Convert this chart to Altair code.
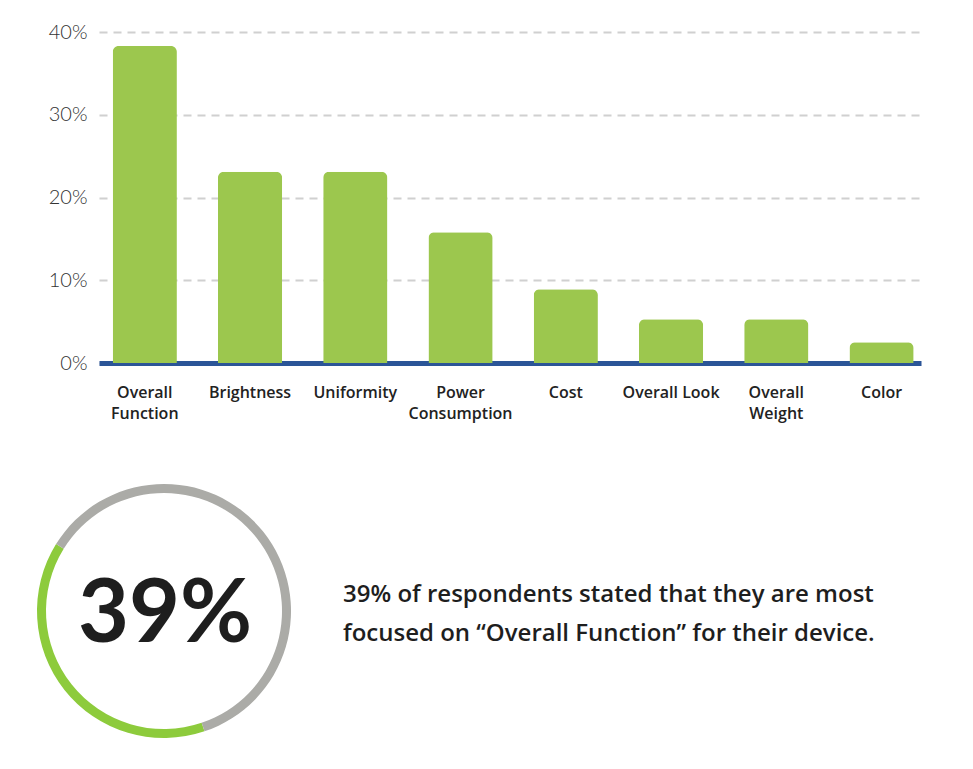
import altair as alt
import pandas as pd

categories = ["Overall Function", "Brightness", "Uniformity", "Power Consumption",
              "Cost", "Overall Look", "Overall Weight", "Color"]
values = [38.3, 23.1, 23.1, 15.8, 8.9, 5.3, 5.3, 2.5]
y_ticks = [0, 10, 20, 30, 40]

ring_parts = ["Overall Function", "Other"]
ring_share = [39, 61]
ring_order = [0, 1]
ring_colors = ["#8DCB3C", "#ABABA7"]

big_label = ["39%"]
statement_lines = ["39% of respondents stated that they are most",
                   "focused on \u201cOverall Function\u201d for their device."]

bar_df = pd.DataFrame({"category": categories, "value": values})
ring_df = pd.DataFrame({"part": ring_parts, "share": ring_share, "idx": ring_order})
big_df = pd.DataFrame({"t": big_label})

W, H = 822, 331

bars = alt.Chart(bar_df).mark_bar(
    color="#9CC74E", cornerRadiusTopLeft=6, cornerRadiusTopRight=6
).encode(
    x=alt.X("category:N", sort=categories, title=None,
            scale=alt.Scale(paddingInner=0.39, paddingOuter=0.1, align=0.65),
            axis=alt.Axis(
                labelAngle=0, labelFont="Open Sans", labelFontWeight=600,
                labelFontSize=16, labelColor="#222222", labelPadding=21,
                labelLineHeight=21, labelBaseline="top",
                labelExpr="datum.label == 'Overall Look' ? datum.label : split(datum.label, ' ')",
                ticks=False, domainColor="#2B5597", domainWidth=5,
                grid=False)),
    y=alt.Y("value:Q", title=None,
            scale=alt.Scale(domain=[0, 40], nice=False),
            axis=alt.Axis(values=y_ticks, labelExpr="datum.value + '%'",
                          labelFont="Lato", labelFontWeight=300, labelFontSize=20,
                          labelColor="#333333", labelPadding=12, ticks=False,
                          domain=False, gridColor="#D0D0D0", gridDash=[8, 6],
                          gridWidth=2)),
)

ring = alt.Chart(ring_df).mark_arc(outerRadius=127, innerRadius=118).encode(
    theta=alt.Theta("share:Q", stack=True,
                    scale=alt.Scale(range=[2.817, 2.817 + 6.2832])),
    order=alt.Order("idx:Q"),
    color=alt.Color("part:N", sort=ring_parts,
                    scale=alt.Scale(domain=ring_parts, range=ring_colors), legend=None),
    x=alt.value(65),
    y=alt.value(579),
)

big = alt.Chart(big_df).mark_text(
    font="Lato", fontWeight="bold", fontSize=88, color="#1E1E1E",
    align="center", baseline="middle"
).encode(text="t:N", x=alt.value(66), y=alt.value(584))

stmt = alt.Chart(pd.DataFrame({"t": [statement_lines]})).mark_text(
    font="Open Sans", fontWeight=600, fontSize=24, color="#1E1E1E",
    align="left", baseline="alphabetic", lineHeight=39
).encode(text="t", x=alt.value(244), y=alt.value(570))

chart = alt.layer(bars, ring, big, stmt).resolve_scale(
    color="independent"
).properties(
    width=W, height=H,
    autosize=alt.AutoSizeParams(type="none"),
    padding={"left": 99, "top": 32, "right": 52, "bottom": 406},
    background="white",
).configure_view(stroke=None)

chart.save("out.html", embed_options={"renderer": "svg", "actions": False})
